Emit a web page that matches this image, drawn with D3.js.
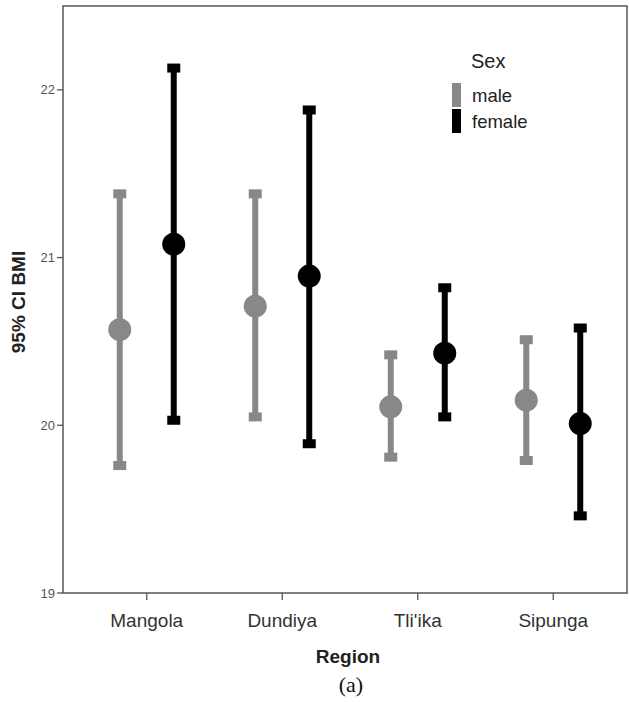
<!DOCTYPE html>
<html>
<head>
    <title>95% CI BMI by Region</title>
    <script src="https://d3js.org/d3.v7.min.js"></script>
    <style>
        body { margin: 0; background: #fff; }
    </style>
</head>
<body>
<svg width="629" height="702"></svg>
<script>
    const regions = ["Mangola", "Dundiya", "Tli'ika", "Sipunga"];
    const sexes = ["male", "female"];
    // mean, lower and upper 95% CI per region
    const maleMean = [20.57, 20.71, 20.11, 20.15];
    const maleLow = [19.76, 20.05, 19.81, 19.79];
    const maleHigh = [21.38, 21.38, 20.42, 20.51];
    const femaleMean = [21.08, 20.89, 20.43, 20.01];
    const femaleLow = [20.03, 19.89, 20.05, 19.46];
    const femaleHigh = [22.13, 21.88, 20.82, 20.58];
    const yTicks = [19, 20, 21, 22];

    const frame = {left: 63, right: 627, top: 6, bottom: 593};
    const sans = "Liberation Sans, Arial, sans-serif";

    const svg = d3.select("svg");

    const x = d3.scaleBand()
        .domain(regions)
        .range([79, 621]);

    const xSex = d3.scalePoint()
        .domain(sexes)
        .range([-27, 27]);

    const y = d3.scaleLinear()
        .domain([19, 22.5])
        .range([frame.bottom, frame.top]);

    const color = d3.scaleOrdinal()
        .domain(sexes)
        .range(["#888888", "#000000"]);

    const rows = [];
    regions.forEach((r, i) => {
        rows.push({region: r, sex: "male", mean: maleMean[i], low: maleLow[i], high: maleHigh[i]});
        rows.push({region: r, sex: "female", mean: femaleMean[i], low: femaleLow[i], high: femaleHigh[i]});
    });

    // frame
    svg.append("rect")
        .attr("x", frame.left)
        .attr("y", frame.top)
        .attr("width", frame.right - frame.left)
        .attr("height", frame.bottom - frame.top)
        .attr("fill", "none")
        .attr("stroke", "#555")
        .attr("stroke-width", 1.5);

    // y axis ticks
    const yAxis = svg.append("g");
    yAxis.selectAll("line")
        .data(yTicks)
        .enter().append("line")
        .attr("x1", frame.left - 6)
        .attr("x2", frame.left)
        .attr("y1", d => y(d))
        .attr("y2", d => y(d))
        .attr("stroke", "#555")
        .attr("stroke-width", 1.3);
    yAxis.selectAll("text")
        .data(yTicks)
        .enter().append("text")
        .attr("x", frame.left - 8)
        .attr("y", d => y(d))
        .attr("dy", "0.35em")
        .attr("text-anchor", "end")
        .style("font-family", sans)
        .style("font-size", "13px")
        .style("fill", "#555")
        .text(d => d);

    // x axis ticks
    const xAxis = svg.append("g");
    xAxis.selectAll("line")
        .data(regions)
        .enter().append("line")
        .attr("x1", d => x(d) + x.bandwidth() / 2)
        .attr("x2", d => x(d) + x.bandwidth() / 2)
        .attr("y1", frame.bottom)
        .attr("y2", frame.bottom + 7)
        .attr("stroke", "#555")
        .attr("stroke-width", 1.3);
    xAxis.selectAll("text")
        .data(regions)
        .enter().append("text")
        .attr("x", d => x(d) + x.bandwidth() / 2)
        .attr("y", 627)
        .attr("text-anchor", "middle")
        .style("font-family", sans)
        .style("font-size", "19px")
        .style("fill", "#333")
        .text(d => d);

    // axis titles
    svg.append("text")
        .attr("x", 348)
        .attr("y", 663)
        .attr("text-anchor", "middle")
        .style("font-family", sans)
        .style("font-size", "19px")
        .style("font-weight", "bold")
        .style("fill", "#222")
        .text("Region");

    svg.append("text")
        .attr("transform", "translate(25,302) rotate(-90)")
        .attr("text-anchor", "middle")
        .style("font-family", sans)
        .style("font-size", "19px")
        .style("font-weight", "bold")
        .style("fill", "#222")
        .text("95% CI BMI");

    svg.append("text")
        .attr("x", 351)
        .attr("y", 692)
        .attr("text-anchor", "middle")
        .style("font-family", "Liberation Serif, Times New Roman, serif")
        .style("font-size", "22px")
        .style("fill", "#111")
        .text("(a)");

    // error bars
    const bars = svg.selectAll(".bar")
        .data(rows)
        .enter().append("g")
        .attr("class", "bar")
        .attr("transform", d => "translate(" + (x(d.region) + x.bandwidth() / 2 + xSex(d.sex)) + ",0)");

    bars.append("line")
        .attr("x1", 0)
        .attr("x2", 0)
        .attr("y1", d => y(d.low))
        .attr("y2", d => y(d.high))
        .attr("stroke", d => color(d.sex))
        .attr("stroke-width", 6);

    bars.append("rect")
        .attr("x", -6.5)
        .attr("y", d => y(d.high) - 4.5)
        .attr("width", 13)
        .attr("height", 9)
        .attr("fill", d => color(d.sex));

    bars.append("rect")
        .attr("x", -6.5)
        .attr("y", d => y(d.low) - 4.5)
        .attr("width", 13)
        .attr("height", 9)
        .attr("fill", d => color(d.sex));

    bars.append("circle")
        .attr("cx", 0)
        .attr("cy", d => y(d.mean))
        .attr("r", 11.5)
        .attr("fill", d => color(d.sex));

    // legend
    const legend = svg.append("g");
    legend.append("text")
        .attr("x", 471)
        .attr("y", 68)
        .style("font-family", sans)
        .style("font-size", "20px")
        .style("fill", "#222")
        .text("Sex");

    const items = legend.selectAll(".item")
        .data(sexes)
        .enter().append("g")
        .attr("class", "item")
        .attr("transform", (d, i) => "translate(452," + (83 + i * 26) + ")");

    items.append("rect")
        .attr("width", 9)
        .attr("height", 24)
        .attr("fill", d => color(d));

    items.append("text")
        .attr("x", 20)
        .attr("y", 19)
        .style("font-family", sans)
        .style("font-size", "18.5px")
        .style("fill", "#222")
        .text(d => d);
</script>
</body>
</html>
